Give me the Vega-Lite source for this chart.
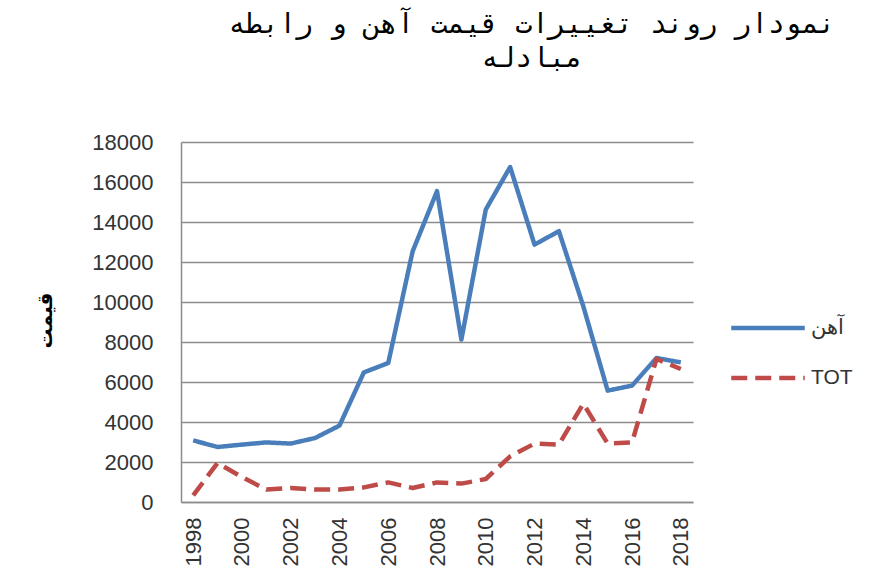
{
  "$schema": "https://vega.github.io/schema/vega-lite/v6.json",
  "width": 512,
  "height": 360,
  "autosize": {"type": "none"},
  "padding": {"left": 181, "top": 142, "right": 179, "bottom": 80},
  "background": "white",
  "title": {
    "text": ["نمودار روند تغییرات قیمت آهن و رابطه", "مبادله"],
    "anchor": "middle",
    "dx": 95,
    "offset": 58,
    "font": "DejaVu Sans Mono",
    "fontSize": 28,
    "fontWeight": "normal",
    "lineHeight": 34,
    "color": "black"
  },
  "data": {
    "values": [
      {"year": 1998, "series": "آهن", "value": 3080},
      {"year": 1999, "series": "آهن", "value": 2750},
      {"year": 2000, "series": "آهن", "value": 2870},
      {"year": 2001, "series": "آهن", "value": 2980},
      {"year": 2002, "series": "آهن", "value": 2920},
      {"year": 2003, "series": "آهن", "value": 3200},
      {"year": 2004, "series": "آهن", "value": 3820},
      {"year": 2005, "series": "آهن", "value": 6480},
      {"year": 2006, "series": "آهن", "value": 6950},
      {"year": 2007, "series": "آهن", "value": 12530},
      {"year": 2008, "series": "آهن", "value": 15540},
      {"year": 2009, "series": "آهن", "value": 8120},
      {"year": 2010, "series": "آهن", "value": 14620},
      {"year": 2011, "series": "آهن", "value": 16750},
      {"year": 2012, "series": "آهن", "value": 12870},
      {"year": 2013, "series": "آهن", "value": 13540},
      {"year": 2014, "series": "آهن", "value": 9790},
      {"year": 2015, "series": "آهن", "value": 5570},
      {"year": 2016, "series": "آهن", "value": 5820},
      {"year": 2017, "series": "آهن", "value": 7200},
      {"year": 2018, "series": "آهن", "value": 6980},
      {"year": 1998, "series": "TOT", "value": 330},
      {"year": 1999, "series": "TOT", "value": 1950},
      {"year": 2000, "series": "TOT", "value": 1250},
      {"year": 2001, "series": "TOT", "value": 620},
      {"year": 2002, "series": "TOT", "value": 700},
      {"year": 2003, "series": "TOT", "value": 620},
      {"year": 2004, "series": "TOT", "value": 620},
      {"year": 2005, "series": "TOT", "value": 730},
      {"year": 2006, "series": "TOT", "value": 980},
      {"year": 2007, "series": "TOT", "value": 700},
      {"year": 2008, "series": "TOT", "value": 980},
      {"year": 2009, "series": "TOT", "value": 920},
      {"year": 2010, "series": "TOT", "value": 1150},
      {"year": 2011, "series": "TOT", "value": 2280},
      {"year": 2012, "series": "TOT", "value": 2920},
      {"year": 2013, "series": "TOT", "value": 2870},
      {"year": 2014, "series": "TOT", "value": 4920},
      {"year": 2015, "series": "TOT", "value": 2920},
      {"year": 2016, "series": "TOT", "value": 2980},
      {"year": 2017, "series": "TOT", "value": 7150},
      {"year": 2018, "series": "TOT", "value": 6650}
    ]
  },
  "mark": {"type": "line", "strokeWidth": 4.5, "strokeCap": "butt", "strokeJoin": "round"},
  "encoding": {
    "x": {
      "field": "year",
      "type": "quantitative",
      "scale": {"domain": [1997.5, 2018.5], "nice": false, "zero": false},
      "axis": {
        "values": [1998, 2000, 2002, 2004, 2006, 2008, 2010, 2012, 2014, 2016, 2018],
        "format": "d",
        "labelAngle": -90,
        "labelFont": "Liberation Sans",
        "labelFontSize": 22,
        "labelColor": "#333333",
        "labelPadding": 15,
        "ticks": false,
        "grid": false,
        "domainColor": "#8c8c8c",
        "domainWidth": 1.5,
        "title": null
      }
    },
    "y": {
      "field": "value",
      "type": "quantitative",
      "scale": {"domain": [0, 18000], "nice": false},
      "axis": {
        "values": [0, 2000, 4000, 6000, 8000, 10000, 12000, 14000, 16000, 18000],
        "format": "d",
        "labelFont": "Liberation Sans",
        "labelFontSize": 22,
        "labelColor": "#333333",
        "labelPadding": 28,
        "ticks": false,
        "grid": true,
        "gridColor": "#8c8c8c",
        "gridWidth": 1.5,
        "domainColor": "#8c8c8c",
        "domainWidth": 1.5,
        "title": "قیمت",
        "titleFont": "DejaVu Sans",
        "titleFontSize": 20,
        "titleFontWeight": "bold",
        "titleColor": "black",
        "titleX": -136,
        "titleY": 178,
        "titleAngle": -90,
        "titleAlign": "center",
        "titleBaseline": "middle"
      }
    },
    "color": {
      "field": "series",
      "type": "nominal",
      "scale": {"domain": ["آهن", "TOT"], "range": ["#4a7ebb", "#be4b48"]},
      "legend": {
        "orient": "none",
        "legendX": 548,
        "legendY": 147,
        "title": null,
        "symbolType": "stroke",
        "symbolSize": 5400,
        "symbolStrokeWidth": 4.5,
        "labelFont": "Liberation Sans",
        "labelFontSize": 21,
        "labelColor": "#333333",
        "rowPadding": 1,
        "labelOffset": 4
      }
    },
    "strokeDash": {
      "field": "series",
      "type": "nominal",
      "scale": {"domain": ["آهن", "TOT"], "range": [[1, 0], [16, 8]]},
      "legend": null
    }
  },
  "config": {"view": {"stroke": null}}
}
